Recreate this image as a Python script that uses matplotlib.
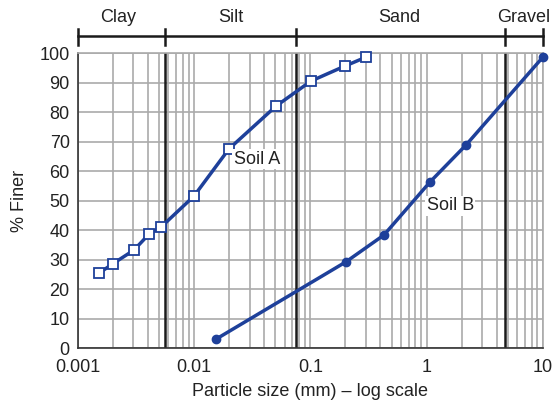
import numpy as np
import matplotlib.pyplot as plt
from matplotlib.ticker import LogLocator, FixedLocator, NullFormatter

# particle size (mm) and percent finer
soil_a_size = [0.00152, 0.0020, 0.00303, 0.00408, 0.00518, 0.00995, 0.0199, 0.0505, 0.101, 0.198, 0.30]
soil_a_finer = [25.4, 28.6, 33.2, 38.6, 41.0, 51.5, 67.5, 82.0, 90.5, 95.6, 98.6]

soil_b_size = [0.0154, 0.202, 0.429, 1.07, 2.18, 10.0]
soil_b_finer = [3.0, 29.2, 38.3, 56.3, 68.8, 98.6]

# soil class boundaries (mm) and names
boundaries = [0.001, 0.0056, 0.075, 4.75, 10.0]
classes = ["Clay", "Silt", "Sand", "Gravel"]
class_label_x = [0.0022, 0.0205, 0.58, 6.9]

blue = "#1e409a"
grey = "#aaaaaa"

plt.rcParams["font.family"] = ["Liberation Sans", "DejaVu Sans"]

fig = plt.figure(figsize=(5.54, 4.04), dpi=100)
ax = fig.add_axes([0.1408, 0.1386, 0.839, 0.730])

ax.set_xscale("log")
ax.set_xlim(0.001, 10)
ax.set_ylim(0, 100)

ax.xaxis.set_minor_locator(LogLocator(base=10, subs=np.arange(2, 10), numticks=20))
ax.xaxis.set_minor_formatter(NullFormatter())
ax.set_xticks([0.001, 0.01, 0.1, 1, 10])
ax.set_xticklabels(["0.001", "0.01", "0.1", "1", "10"])
ax.yaxis.set_major_locator(FixedLocator(range(0, 101, 10)))

ax.grid(True, which="both", axis="x", color=grey, lw=1.2)
ax.grid(True, which="major", axis="y", color=grey, lw=1.2)
ax.tick_params(which="both", length=0, labelsize=13, colors="#222222")
ax.tick_params(axis="x", pad=8)
ax.tick_params(axis="y", pad=6)
for s in ["top", "right"]:
    ax.spines[s].set_color(grey)
    ax.spines[s].set_linewidth(1.2)
for s in ["left", "bottom"]:
    ax.spines[s].set_color("#333333")
    ax.spines[s].set_linewidth(1.2)

# boundary lines
for b in boundaries[1:-1]:
    ax.axvline(b, color="#1a1a1a", lw=1.8, zorder=2)

# classification bar on top
trans = ax.get_xaxis_transform()
ax.plot([boundaries[0], boundaries[-1]], [1.058, 1.058], color="#1a1a1a", lw=1.8,
        transform=trans, clip_on=False)
for b in boundaries:
    ax.plot([b, b], [1.027, 1.082], color="#1a1a1a", lw=1.8, transform=trans, clip_on=False)
for name, xl in zip(classes, class_label_x):
    ax.text(xl, 1.122, name, transform=trans, ha="center", va="center",
            fontsize=13, color="#222222")

ax.plot(soil_a_size, soil_a_finer, color=blue, lw=2.5, marker="s", ms=7,
        mfc="white", mec=blue, mew=1.3, zorder=4, clip_on=False)
ax.plot(soil_b_size, soil_b_finer, color=blue, lw=2.5, marker="o", ms=6,
        mfc=blue, mec=blue, zorder=4, clip_on=False)

ax.text(0.0218, 64, "Soil A", fontsize=13, color="#222222", va="center", ha="left",
        bbox=dict(facecolor="white", edgecolor="none", pad=1), zorder=5)
ax.text(1.0, 48.3, "Soil B", fontsize=13, color="#222222", va="center", ha="left",
        bbox=dict(facecolor="white", edgecolor="none", pad=1), zorder=5)

ax.set_xlabel("Particle size (mm) \u2013 log scale", fontsize=13, color="#222222", labelpad=5)
ax.set_ylabel("% Finer", fontsize=13, color="#222222", labelpad=8)

fig.savefig("out.png", dpi=100)
